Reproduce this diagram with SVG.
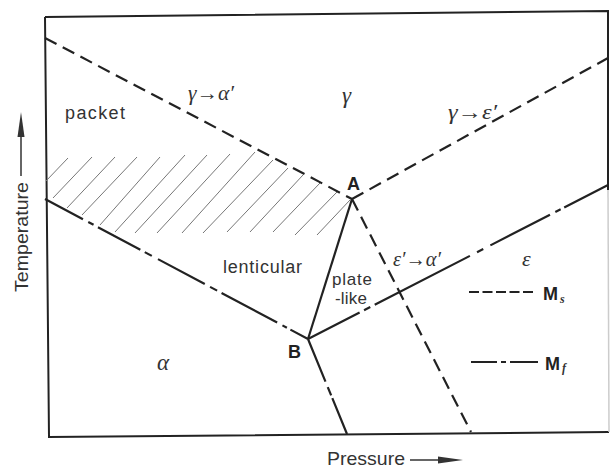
<svg xmlns="http://www.w3.org/2000/svg" width="610" height="468" viewBox="0 0 610 468">
<style>
.frame{fill:none;stroke:#222;stroke-width:2}
.ms{fill:none;stroke:#222;stroke-width:2.2;stroke-dasharray:13 7}
.mf{fill:none;stroke:#222;stroke-width:2.2}
.solid{fill:none;stroke:#222;stroke-width:2.2}
.hatch{stroke:#777;stroke-width:1;fill:none}
.lbl{font-family:"Liberation Sans",Arial,sans-serif;fill:#333}
.grk{font-family:"Liberation Serif","DejaVu Serif",serif;font-style:italic;fill:#333}
.pt{font-family:"Liberation Sans",Arial,sans-serif;font-weight:bold;fill:#222;font-size:18px}
</style>
<rect width="610" height="468" fill="#fff"/>
<g id="frame">
<path class="frame" d="M45,17 L608,11 L608,190"/>
<path class="frame" d="M45,17 L49,437 L609,432"/>
<path d="M608,190 L609,432" fill="none" stroke="#ccc" stroke-width="1.5"/>
</g>
<g id="hatching" class="hatch">
<path d="M46,181 L68,158 M53,198 L92,157 M67,208 L115,157 M82,215 L137,157 M100,225 L160,157 M115,232 L185,155 M135,233 L207,155 M157,233 L230,154 M182,233 L255,152 M203,233 L273,160 M227,232 L288,168 M250,232 L303,175 M273,232 L320,183 M295,235 L337,192 M317,235 L350,200"/>
</g>
<g id="connectors">
<path id="Ms-ga" class="ms" d="M45,38 L352,199"/>
<path id="Ms-ge" class="ms" d="M352,199 L608,58"/>
<path id="Ms-ea" class="ms" d="M352,199 L471,432"/>
<path id="AB" class="solid" d="M352,199 L308,339"/>
<path id="Mf-left" class="mf" stroke-dasharray="43 6 6 5 48 5 8 7 53 6 8 5 63 6 5 4 30" d="M45,199 L308,339"/>
<path id="Mf-right" class="mf" stroke-dasharray="58 5 7 5 107 8 7 8 67 6 6 4 60" d="M308,339 L608,185"/>
<path id="Mf-down" class="mf" stroke-dasharray="46 6 9 3 50" d="M308,339 L347,434"/>
</g>
<g id="axes">
<path d="M21,176 L21,134" stroke="#333" stroke-width="1.5"/>
<path d="M21,112 L24.5,137 L17.5,137 Z" fill="#333"/>
<text class="lbl" font-size="19" transform="translate(28,292) rotate(-90)" textLength="110" lengthAdjust="spacingAndGlyphs">Temperature</text>
<text class="lbl" x="327" y="465" font-size="19" textLength="78" lengthAdjust="spacingAndGlyphs">Pressure</text>
<path d="M410,460 L445,460" stroke="#333" stroke-width="1.5"/>
<path d="M463,460 L438,456.5 L438,463.5 Z" fill="#333"/>
</g>
<g id="labels">
<text class="lbl" x="65" y="119" font-size="18" textLength="60" lengthAdjust="spacing">packet</text>
<text class="grk" x="188" y="100" font-size="20" textLength="46" lengthAdjust="spacingAndGlyphs">γ→α′</text>
<text class="grk" x="342" y="103" font-size="23">γ</text>
<text class="grk" x="448" y="119" font-size="20" textLength="49" lengthAdjust="spacingAndGlyphs">γ→ε′</text>
<text class="pt" x="347" y="190">A</text>
<text class="lbl" x="223" y="273" font-size="18" textLength="79" lengthAdjust="spacing">lenticular</text>
<text class="lbl" x="332" y="285" font-size="17" textLength="40" lengthAdjust="spacing">plate</text>
<text class="lbl" x="335" y="304" font-size="17" textLength="32" lengthAdjust="spacing">-like</text>
<text class="grk" x="393" y="266" font-size="20" textLength="48" lengthAdjust="spacingAndGlyphs">ε′→α′</text>
<text class="grk" x="522" y="266" font-size="22">ε</text>
<text class="grk" x="157" y="370" font-size="23">α</text>
<text class="pt" x="288" y="358">B</text>
</g>
<g id="legend">
<path d="M469,292 L533,292" fill="none" stroke="#222" stroke-width="2.2" stroke-dasharray="10 3.5"/>
<text class="pt" x="543" y="300" font-size="19">M</text>
<text class="grk" x="560" y="303" font-size="12" font-weight="bold">s</text>
<path d="M471,362 L538,362" fill="none" stroke="#222" stroke-width="2.2" stroke-dasharray="26 4 5 4 30"/>
<text class="pt" x="545" y="370" font-size="19">M</text>
<text class="grk" x="562" y="372" font-size="12" font-weight="bold">f</text>
</g>
</svg>
